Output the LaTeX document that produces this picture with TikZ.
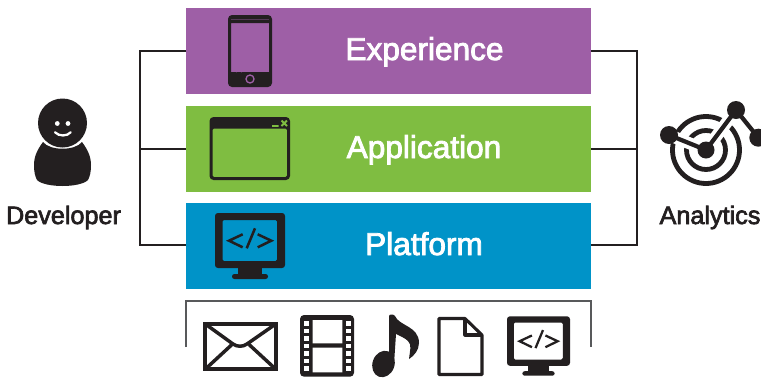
\documentclass[tikz,border=0pt]{standalone}
\usepackage{fontspec}
\setmainfont{Liberation Sans}
\newfontfamily\lblfont[FakeBold=2.6]{Liberation Sans}
\definecolor{ink}{HTML}{231F20}
\definecolor{purp}{HTML}{9E5FA6}
\definecolor{grn}{HTML}{7FBD41}
\definecolor{blu}{HTML}{0093C8}
\definecolor{brk}{HTML}{58595B}
\tikzset{
  band/.style={minimum width=303.75pt,minimum height=64.5pt,inner sep=0pt,outer sep=0pt,draw=none},
  bandtext/.style={anchor=base,text=white,inner sep=0pt,font=\lblfont\fontsize{23.7}{26}\selectfont},
  sidetext/.style={anchor=base,text=ink,inner sep=0pt,font=\lblfont\fontsize{18.9}{20}\selectfont},
  conn/.style={draw=ink,line width=0.85pt},
  pics/monitor/.style={code={
    \fill[ink,even odd rule] [rounded corners=2.2pt] (-35,-33) rectangle (35,22) [rounded corners=1pt] (-27.5,-26) rectangle (27,15);
    \fill[ink] (-12,22) rectangle (12,29);
    \fill[ink,rounded corners=1.8pt] (-18,28) rectangle (18,33);
    \draw[ink,line width=#1] (-7.3,-11.7) -- (-21,-5.3) -- (-7.3,1.3)
      (5,-17.7) -- (-3.3,2.3)
      (7.7,-11.7) -- (21.3,-5.3) -- (7.7,1.3);
  }}
}
\begin{document}
\begin{tikzpicture}[x=0.75pt,y=-0.75pt]
\useasboundingbox (0,0) rectangle (761,379);
\fill[white] (0,0) rectangle (761,379);
% bands
\node[band,fill=purp] (exp) at (388.5,51) {};
\node[band,fill=grn] (app) at (388.5,149) {};
\node[band,fill=blu] (plat) at (388.5,246) {};
\node[bandtext] (expl) at (424.5,60) {Experience};
\node[bandtext] (appl) at (424,158) {Application};
\node[bandtext] (platl) at (424,255) {Platform};
\node[sidetext] (dev) at (63.5,224) {Developer};
\node[sidetext] (ana) at (710,224) {Analytics};
% connectors
\coordinate (lt) at (140,51);
\coordinate (lm) at (140,149);
\coordinate (lb) at (140,245);
\coordinate (rt) at (637,51);
\coordinate (rm) at (637,149);
\coordinate (rb) at (637,245);
\draw[conn] (exp.west) -- (lt) -- (lb) -- (plat.west |- lb);
\draw[conn] (app.west) -- (lm);
\draw[conn] (exp.east) -- (rt) -- (rb) -- (plat.east |- rb);
\draw[conn] (app.east) -- (rm);
% bracket
\coordinate (bl) at (186,347);
\coordinate (tl) at (186,301);
\coordinate (tr) at (591,301);
\coordinate (br) at (591,347);
\draw[brk,line width=1.2pt] (bl) -- (tl) -- (tr) -- (br);
% phone
\fill[ink,even odd rule] [rounded corners=3pt] (228,15) rectangle (272,87) [sharp corners] (231,23) rectangle (269,72);
\draw[purp,line width=1pt] (236,72) -- (249,58) (241,72) -- (250,63);
\draw[purp,line width=1pt] (250,79) circle (4);
\draw[purp!40!ink,line width=.4pt] (231,19.5) -- (269,19.5);
% window
\fill[ink,even odd rule] [rounded corners=3pt] (209.5,117) rectangle (290,180) [rounded corners=1pt] (212.5,128.5) rectangle (287,177);
\draw[grn,line width=1.4pt] (272,126) -- (278.5,126) (281.5,120.5) -- (287,126) (287,120.5) -- (281.5,126);
% monitor
\pic at (250,246) {monitor=1.9pt};
\pic[scale=0.9] at (538.5,346) {monitor=1.7pt};
% envelope
\draw[ink,line width=2.6pt] (205,324) rectangle (276,369);
\draw[ink,line width=2.6pt,line join=round] (206,324.5) -- (233,344) .. controls (237,347) and (243,347) .. (247,344) -- (275,324.5);
\draw[ink,line width=2.6pt] (206,368.5) -- (232,344.5) (275,368.5) -- (249,344.5);
% film
\fill[ink,rounded corners=3pt] (300,315) rectangle (354,376.7);
\fill[white] (312.7,320) rectangle (342.3,343.3) (312.7,347.7) rectangle (342.3,372.3);
\foreach \k in {0,...,6}{
  \fill[white] (304,{321+\k*7.5}) rectangle (309,{325.5+\k*7.5});
  \fill[white] (346,{321+\k*7.5}) rectangle (351,{325.5+\k*7.5});
}
% note
\fill[ink,rotate around={-20:(383.5,364)}] (383.5,364) ellipse (11 and 13.5);
\fill[ink] (389,364) -- (389,316) .. controls (389,314) and (394,314) .. (395,316) .. controls (399,326) and (419,326) .. (419,343)
  .. controls (419,350) and (414,356) .. (409,359) .. controls (410,350) and (412,345) .. (408,341)
  .. controls (405,338) and (400,336) .. (396,334) -- (394,364) -- cycle;
% document
\draw[ink,line width=2.3pt,line join=round] (439,318.5) -- (465,318.5) -- (482,335) -- (482,374.5) -- (439,374.5) -- cycle;
\draw[ink,line width=2.3pt,line join=round] (465,318.5) -- (465,335) -- (482,335);
% developer
\fill[ink] (62.5,123) circle (24.5);
\fill[ink] (43,142) .. controls (50,151) and (75,151) .. (82,142)
  .. controls (88,150) and (91,157) .. (91,165) .. controls (91,172) and (90,176) .. (88,180)
  .. controls (80,188) and (45,188) .. (37,180) .. controls (35,176) and (34,172) .. (34,165)
  .. controls (34,157) and (37,150) .. (43,142) -- cycle;
\fill[white] (57.3,123.5) circle (2.4) (68,123.5) circle (2.4);
\draw[white,line width=1.7pt,line cap=round] (55,132.3) .. controls (59,136.5) and (67,136.5) .. (70.7,132.3);
% analytics
\draw[ink,line width=3.6pt] (706,150) circle (33.5) (706,150) circle (19.5);
\draw[white,line width=9pt] (669,135) -- (706,150) -- (736,110);
\draw[ink,line width=3.2pt,line join=round] (669,135) -- (706,150) -- (736,110) -- (758.3,137.7);
\fill[ink] (706,150) circle (8.5) (669,135) circle (9) (736,110) circle (9) (758.3,137.7) circle (9);
\end{tikzpicture}
\end{document}
